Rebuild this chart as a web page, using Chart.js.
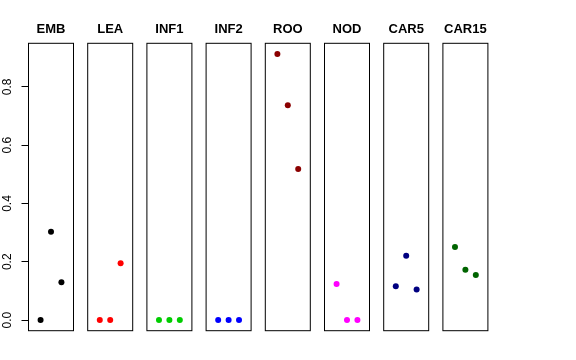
<!DOCTYPE html>
<html>
<head>
<meta charset="utf-8">
<script src="https://cdn.jsdelivr.net/npm/chart.js@4.4.0/dist/chart.umd.min.js"></script>
<style>
  html, body { margin: 0; padding: 0; background: #fff; }
  #wrap { position: relative; width: 576px; height: 360px; overflow: hidden; }
  .panel { position: absolute; top: 0; height: 360px; }
</style>
</head>
<body>
<div id="wrap"></div>
<script>
// panel names and one value list per panel (x positions are 1, 2, 3)
var categories = ['EMB', 'LEA', 'INF1', 'INF2', 'ROO', 'NOD', 'CAR5', 'CAR15'];
var xPos = [1, 2, 3];
var emb   = [0.000, 0.303, 0.130];
var lea   = [0.000, 0.000, 0.195];
var inf1  = [0.000, 0.000, 0.000];
var inf2  = [0.000, 0.000, 0.000];
var roo   = [0.913, 0.737, 0.518];
var nod   = [0.124, 0.000, 0.000];
var car5  = [0.116, 0.221, 0.105];
var car15 = [0.251, 0.173, 0.155];
var seriesValues = [emb, lea, inf1, inf2, roo, nod, car5, car15];
var colors = ['#000000', '#FF0000', '#00CD00', '#0000FF', '#8B0000', '#FF00FF', '#000080', '#006400'];
var yTicks = [0, 0.2, 0.4, 0.6, 0.8];

Chart.defaults.font.family = '"Liberation Sans", Arial, Helvetica, sans-serif';
Chart.defaults.color = '#000';

// R style 4% axis extension
var allVals = [].concat.apply([], seriesValues);
var yLo = Math.min.apply(null, allVals), yHi = Math.max.apply(null, allVals);
var yPad = (yHi - yLo) * 0.04;
var xPad = (4 - 0) * 0.04;

var boxPlugin = {
	id: 'box',
	afterDraw: function(chart) {
		var a = chart.chartArea, ctx = chart.ctx;
		ctx.save();
		ctx.strokeStyle = '#000';
		ctx.lineWidth = 1;
		ctx.strokeRect(a.left, a.top, a.right - a.left, a.bottom - a.top);
		ctx.restore();
	}
};

var boxW = 45, step = 59.2, firstLeft = 28.5;
var wrap = document.getElementById('wrap');

categories.forEach(function(name, i) {
	var boxLeft = firstLeft + step * i;
	var canvasLeft, canvasW, padLeft, padRight;
	if (i === 0) {
		canvasLeft = 0; canvasW = 80; padLeft = 0;
	} else {
		canvasLeft = Math.floor(boxLeft) - 6; canvasW = 58; padLeft = boxLeft - canvasLeft;
	}
	padRight = canvasW - (i === 0 ? firstLeft : padLeft) - boxW;

	var div = document.createElement('div');
	div.className = 'panel';
	div.style.left = canvasLeft + 'px';
	div.style.width = canvasW + 'px';
	var cv = document.createElement('canvas');
	div.appendChild(cv);
	wrap.appendChild(div);

	var pts = xPos.map(function(x, j) { return { x: x, y: seriesValues[i][j] }; });

	var yScale = {
		type: 'linear',
		display: i === 0,
		min: yLo - yPad,
		max: yHi + yPad,
		afterBuildTicks: function(scale) {
			scale.ticks = yTicks.map(function(v) { return { value: v }; });
		},
		border: { display: true, color: '#000', width: 1 },
		grid: { display: true, drawOnChartArea: false, drawTicks: true, tickLength: 7, color: '#000' },
		ticks: {
			minRotation: 90, maxRotation: 90,
			crossAlign: 'center',
			padding: 5,
			font: { size: 12 },
			callback: function(v) { return v.toFixed(1); }
		}
	};
	// only the first panel carries the y axis
	if (i === 0) {
		yScale.afterFit = function(scale) { scale.width = firstLeft; };
	}

	new Chart(cv, {
		type: 'scatter',
		data: {
			datasets: [{
				label: name,
				data: pts,
				backgroundColor: colors[i],
				borderWidth: 0,
				pointRadius: 3,
				pointHoverRadius: 3
			}]
		},
		options: {
			responsive: true,
			maintainAspectRatio: false,
			animation: false,
			events: [],
			layout: { padding: { left: padLeft, right: padRight, top: 0, bottom: 29.3 } },
			scales: {
				x: { type: 'linear', display: false, min: 0 - xPad, max: 4 + xPad },
				y: yScale
			},
			plugins: {
				legend: { display: false },
				tooltip: { enabled: false },
				title: {
					display: true,
					text: name,
					fullSize: false,
					font: { size: 13, weight: 'bold' },
					padding: { top: 22, bottom: 5.7 }
				}
			}
		},
		plugins: [boxPlugin]
	});
});
</script>
</body>
</html>
